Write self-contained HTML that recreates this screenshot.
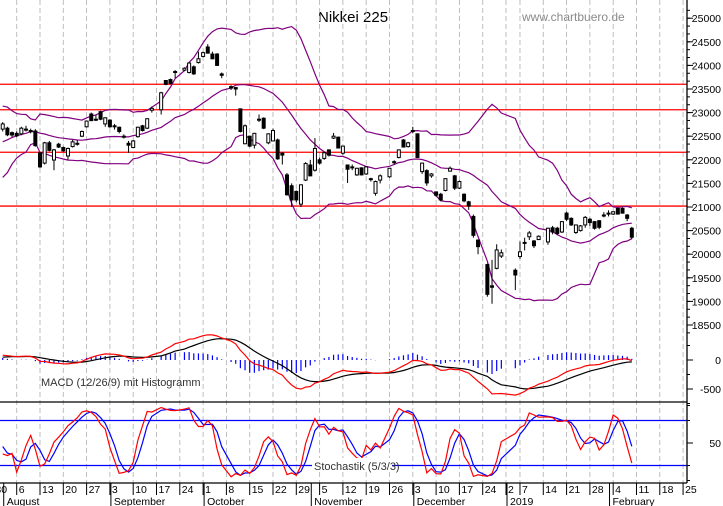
<!DOCTYPE html>
<html><head><meta charset="utf-8"><style>
html,body{margin:0;padding:0;background:#fff;}
svg{display:block;font-family:"Liberation Sans",sans-serif;}
</style></head><body>
<svg id="chart" width="723" height="506" viewBox="0 0 723 506" xmlns="http://www.w3.org/2000/svg">
<rect x="0" y="0" width="723" height="506" fill="#fff"/>
<text x="318" y="22" font-size="15" fill="#000">Nikkei 225</text>
<text x="522" y="21" font-size="12" fill="#8a8a8a">www.chartbuero.de</text>
<defs><clipPath id="plotclip"><rect x="0" y="0" width="687" height="483"/></clipPath>
<clipPath id="stochclip"><rect x="0" y="403" width="687" height="79"/></clipPath></defs>
<g id="grid"></g>
<g id="price" clip-path="url(#plotclip)"></g>
<g id="macd" clip-path="url(#plotclip)"></g>
<g id="stoch" clip-path="url(#stochclip)"></g>
<g id="axes"></g>
</svg>
<script>
const dates=['2018-08-01','2018-08-02','2018-08-03','2018-08-06','2018-08-07','2018-08-08','2018-08-09','2018-08-10','2018-08-13','2018-08-14','2018-08-15','2018-08-16','2018-08-17','2018-08-20','2018-08-21','2018-08-22','2018-08-23','2018-08-24','2018-08-27','2018-08-28','2018-08-29','2018-08-30','2018-08-31','2018-09-03','2018-09-04','2018-09-05','2018-09-06','2018-09-07','2018-09-10','2018-09-11','2018-09-12','2018-09-13','2018-09-14','2018-09-18','2018-09-19','2018-09-20','2018-09-21','2018-09-25','2018-09-26','2018-09-27','2018-09-28','2018-10-01','2018-10-02','2018-10-03','2018-10-04','2018-10-05','2018-10-09','2018-10-10','2018-10-11','2018-10-12','2018-10-15','2018-10-16','2018-10-17','2018-10-18','2018-10-19','2018-10-22','2018-10-23','2018-10-24','2018-10-25','2018-10-26','2018-10-29','2018-10-30','2018-10-31','2018-11-01','2018-11-02','2018-11-05','2018-11-06','2018-11-07','2018-11-08','2018-11-09','2018-11-12','2018-11-13','2018-11-14','2018-11-15','2018-11-16','2018-11-19','2018-11-20','2018-11-21','2018-11-22','2018-11-26','2018-11-27','2018-11-28','2018-11-29','2018-11-30','2018-12-03','2018-12-04','2018-12-05','2018-12-06','2018-12-07','2018-12-10','2018-12-11','2018-12-12','2018-12-13','2018-12-14','2018-12-17','2018-12-18','2018-12-19','2018-12-20','2018-12-21','2018-12-25','2018-12-26','2018-12-27','2018-12-28','2019-01-04','2019-01-07','2019-01-08','2019-01-09','2019-01-10','2019-01-11','2019-01-15','2019-01-16','2019-01-17','2019-01-18','2019-01-21','2019-01-22','2019-01-23','2019-01-24','2019-01-25','2019-01-28','2019-01-29','2019-01-30','2019-01-31','2019-02-01','2019-02-04','2019-02-05','2019-02-06','2019-02-07','2019-02-08'];
const opens=[22650,22670,22575,22560,22550,22640,22620,22610,22150,21930,22360,21995,22330,22260,22080,22280,22340,22500,22700,22970,22850,23020,22760,22840,22720,22690,22500,22350,22260,22490,22720,22670,23050,23060,23680,23700,23850,23900,23850,23970,24060,24190,24390,24240,24240,23820,23550,23530,23080,22340,22500,22310,22860,22880,22360,22400,22420,22140,21680,21450,21330,21060,21570,21890,21780,22000,22030,22210,22460,22480,22140,21890,21850,21680,21830,21700,21600,21290,21570,21640,21950,22050,22420,22280,22600,22550,21750,21770,21660,21320,21270,21350,21760,21660,21400,21270,21110,20800,20300,19780,19330,19700,19960,19660,19950,20250,20370,20280,20310,20260,20560,20550,20470,20870,20760,20460,20500,20620,20740,20690,20710,20820,20860,20850,20970,20970,20830,20550];
const highs=[22800,22700,22600,22600,22700,22720,22660,22650,22150,22380,22400,22230,22360,22280,22260,22420,22420,22620,22830,23000,22950,23040,22900,22860,22760,22700,22540,22400,22420,22700,22740,22880,23130,23440,23690,23720,23900,23960,24070,24000,24290,24290,24450,24290,24260,23850,23580,23540,23080,22750,22510,22570,22960,22900,22560,22660,22450,22160,21720,21500,21350,21480,21950,22000,22460,22050,22170,22220,22570,22490,22300,21900,21900,21830,21840,21860,21620,21560,21690,21830,21990,22220,22440,22380,22700,22560,21940,21800,21720,21330,21300,21610,21860,21680,21560,21290,21130,20840,20310,19800,19880,20210,20100,19700,20270,20350,20490,20300,20400,20560,20600,20580,20700,20900,20780,20630,20620,20810,20770,20700,20720,20890,20930,20900,20980,20990,20850,20580];
const lows=[22600,22500,22480,22480,22520,22600,22560,22280,21830,21900,22180,21780,22250,22170,22000,22260,22300,22480,22680,22820,22820,22840,22700,22680,22640,22560,22450,22150,22250,22470,22600,22650,23000,22960,23580,23600,23730,23880,23830,23800,24040,24170,24250,24130,23990,23730,23480,23360,22580,22330,22270,22240,22800,22650,22330,22390,22000,21900,21240,21000,21100,21000,21550,21650,21750,21900,22000,22070,22440,22240,22110,21510,21780,21660,21670,21680,21540,21240,21500,21620,21900,22030,22260,22260,22560,22040,21700,21450,21620,21220,21120,21330,21750,21360,21380,21100,20940,20350,20000,19100,18950,19680,19920,19240,19900,20080,20300,20130,20300,20200,20420,20400,20450,20700,20600,20430,20480,20560,20600,20520,20530,20780,20800,20830,20840,20860,20700,20320];
const closes=[22760,22530,22525,22510,22670,22650,22600,22300,21850,22360,22200,22210,22270,22190,22240,22380,22350,22600,22820,22830,22860,22860,22890,22700,22700,22600,22490,22310,22400,22690,22620,22870,23090,23420,23600,23620,23870,23940,24050,23820,24140,24270,24260,24140,24000,23790,23520,23500,22600,22720,22290,22560,22840,22670,22550,22620,22020,22100,21260,21150,21150,21470,21920,21660,22240,21930,22150,22100,22500,22250,22290,21800,21840,21820,21680,21850,21590,21540,21660,21820,21960,22210,22270,22360,22620,22050,21930,21510,21700,21250,21150,21600,21820,21400,21540,21130,21020,20400,20160,19150,19300,20090,20030,19560,20050,20240,20450,20180,20380,20550,20470,20440,20690,20740,20620,20620,20600,20780,20670,20550,20570,20830,20870,20900,20850,20870,20760,20360];
const histCloses=[22680,22278,22555,22693,22516,22338,22342,22271,22270,22304,21811,21785,21717,21546,21788,22052,22196,21932,22187,22597,22697,22794,22764,22698,22397,22510,22614,22586,22712,22544,22553];
const resistanceLevels=[23600,23060,22160,21020];
const priceTicks=[18500,19000,19500,20000,20500,21000,21500,22000,22500,23000,23500,24000,24500,25000];
const macdTicks=[0,-500];
const stochTicks=[50];
const stochLevels=[80,20];
const monthNames=['January','February','March','April','May','June','July','August','September','October','November','December'];

const NS='http://www.w3.org/2000/svg';
function mk(tag,attrs,parent){const e=document.createElementNS(NS,tag);for(const k in attrs)e.setAttribute(k,attrs[k]);parent.appendChild(e);return e;}
const gGrid=document.getElementById('grid'),gPrice=document.getElementById('price'),gMacd=document.getElementById('macd'),gStoch=document.getElementById('stoch'),gAxes=document.getElementById('axes');

const slots=[];
for(let d=Date.UTC(2018,6,30);d<=Date.UTC(2019,1,28);d+=864e5){const dt=new Date(d);const dow=dt.getUTCDay();if(dow===0||dow===6)continue;const s=dt.toISOString().slice(0,10);if(s==='2018-12-31'||s==='2019-01-01')continue;slots.push(s);}
const slotIdx={};slots.forEach((s,i)=>slotIdx[s]=i);
const base=slotIdx['2018-08-06'];
const xOf=s=>16.7+(slotIdx[s]-base)*4.66;
const yP=v=>207-(v-21000)*0.0472;
const yM=v=>360-v*0.058;
const yS=v=>443-(v-50)*0.75;
const AX=687, BOT=483;

let prevMonth=null;
slots.forEach((s,i)=>{
  const x=xOf(s);const dt=new Date(s+'T00:00:00Z');
  const prev=i>0?new Date(slots[i-1]+'T00:00:00Z'):null;
  const weekStart=dt.getUTCDay()===1||(prev&&(dt-prev)>3*864e5);
  if(weekStart&&x<AX){
    const gl=mk('line',{x1:x,x2:x,y1:0,y2:BOT,stroke:'#b8b8b8','stroke-width':0.9,'stroke-dasharray':'5,3'},gGrid);
    
    
    const tk=mk('line',{x1:x,x2:x,y1:BOT,y2:495,stroke:'#000','stroke-width':1},gAxes);
    
    
    const t=mk('text',{x:x+2,y:493,'font-size':10.5,fill:'#000'},gAxes);t.textContent=String(dt.getUTCDate());
    
    
  }
  const m=dt.getUTCMonth();
  if(prevMonth!==null&&m!==prevMonth&&x<AX){
    const ms=mk('line',{x1:x+1,x2:x+1,y1:BOT,y2:506,stroke:'#000','stroke-width':1},gAxes);
    
    
    const t=mk('text',{x:x+4,y:505,'font-size':10.5,fill:'#000'},gAxes);
    t.textContent=(m===0)?String(dt.getUTCFullYear()):monthNames[m];
    
    
  }
  prevMonth=m;
});

resistanceLevels.forEach(v=>{
  const l=mk('line',{x1:0,x2:AX,y1:yP(v),y2:yP(v),stroke:'#ff0000','stroke-width':1.3},gPrice);
  
  
});

const allC=histCloses.concat(closes);
const allH=histCloses.concat(highs);
const allL=histCloses.concat(lows);
const H0=histCloses.length;
function ema(arr,n){const k=2/(n+1);const out=[];arr.forEach((v,i)=>out.push(i===0?v:v*k+out[i-1]*(1-k)));return out;}
const e12=ema(allC,12),e26=ema(allC,26);
const macd=allC.map((v,i)=>e12[i]-e26[i]);
const sig=ema(macd,9);
const bbU=[],bbM=[],bbL=[];
allC.forEach((v,i)=>{if(i<19){bbU.push(null);bbM.push(null);bbL.push(null);return;}
  const w=allC.slice(i-19,i+1);const m=w.reduce((a,b)=>a+b,0)/20;const sd=Math.sqrt(w.reduce((a,b)=>a+(b-m)*(b-m),0)/20);
  bbU.push(m+2*sd);bbM.push(m);bbL.push(m-2*sd);});
const fastK=allC.map((c,i)=>{if(i<4)return null;const hh=Math.max(...allH.slice(i-4,i+1)),ll=Math.min(...allL.slice(i-4,i+1));return hh===ll?50:(c-ll)/(hh-ll)*100;});
const sma3=a=>a.map((v,i)=>{if(i<2||a[i]==null||a[i-1]==null||a[i-2]==null)return null;return (a[i]+a[i-1]+a[i-2])/3;});
const slowK=sma3(fastK),slowD=sma3(slowK);

function polyline(vals,yf,parent,color,w,name){
  const pts=[];dates.forEach((d,j)=>{const v=vals[H0+j];if(v!=null)pts.push(xOf(d).toFixed(1)+','+yf(v).toFixed(1));});
  const p=mk('polyline',{points:pts.join(' '),fill:'none',stroke:color,'stroke-width':w},parent);
  
  
}
polyline(bbU,yP,gPrice,'#800080',1.2,'bollinger-upper');
polyline(bbM,yP,gPrice,'#800080',1.2,'bollinger-middle');
polyline(bbL,yP,gPrice,'#800080',1.2,'bollinger-lower');

dates.forEach((d,j)=>{
  const x=xOf(d),o=opens[j],c=closes[j],h=highs[j],l=lows[j];
  const wk=mk('line',{x1:x,x2:x,y1:yP(h),y2:yP(l),stroke:'#000','stroke-width':1},gPrice);
  
  
  const top=yP(Math.max(o,c)),bh=Math.max(1,Math.abs(yP(o)-yP(c)));
  const up=c>=o;
  const b=mk('rect',{x:x-1.5,y:top,width:3,height:bh,fill:up?'#fff':'#000',stroke:'#000','stroke-width':1},gPrice);
  
  
});

dates.forEach((d,j)=>{
  const v=macd[H0+j]-sig[H0+j];const x=xOf(d);
  const bar=mk('line',{x1:x,x2:x,y1:yM(0),y2:yM(v),stroke:'#0000ff','stroke-width':1.2},gMacd);
  
  
});
polyline(sig,yM,gMacd,'#000',1.2,'macd-signal-line');
polyline(macd,yM,gMacd,'#ff0000',1.2,'macd-line');
const mt=mk('text',{x:41,y:386,'font-size':11,fill:'#333'},gMacd);mt.textContent='MACD (12/26/9) mit Histogramm';



const sep=mk('line',{x1:0,x2:AX,y1:402,y2:402,stroke:'#000','stroke-width':1.3},gAxes);


stochLevels.forEach(v=>{
  const l=mk('line',{x1:0,x2:AX,y1:yS(v),y2:yS(v),stroke:'#0000ff','stroke-width':1.3},gGrid);
  
  
});

polyline(slowD,yS,gStoch,'#0000ff',1.2,'stochastic-d-line');
polyline(slowK,yS,gStoch,'#ff0000',1.2,'stochastic-k-line');
const sb=mk('rect',{x:312,y:458,width:80,height:14,fill:'#fff'},gAxes);


const st=mk('text',{x:314,y:470,'font-size':11,fill:'#333'},gAxes);st.textContent='Stochastik (5/3/3)';



const va=mk('line',{x1:AX,x2:AX,y1:0,y2:BOT,stroke:'#000','stroke-width':1.3},gAxes);


const ha=mk('line',{x1:0,x2:AX,y1:BOT,y2:BOT,stroke:'#000','stroke-width':1.3},gAxes);



for(let v=18500-500;v<=25200;v+=500/3){const y=yP(v);if(y<0||y>335)continue;
  const t=mk('line',{x1:AX,x2:AX+3,y1:y,y2:y,stroke:'#000','stroke-width':1},gAxes);
  
  }
function axisLabel(v,y,name){
  const tk=mk('line',{x1:AX,x2:AX+6,y1:y,y2:y,stroke:'#000','stroke-width':1},gAxes);
  
  
  const t=mk('text',{x:721,y:y+4,'font-size':10.5,'text-anchor':'end',fill:'#000'},gAxes);t.textContent=String(v);
  
  
}
priceTicks.forEach(v=>axisLabel(v,yP(v),'price-axis'));
macdTicks.forEach(v=>axisLabel(v,yM(v),'macd-axis'));
for(let v=-750;v<=250;v+=250){const y=yM(v);const t=mk('line',{x1:AX,x2:AX+3,y1:y,y2:y,stroke:'#000','stroke-width':1},gAxes);
  
  }
stochTicks.forEach(v=>axisLabel(v,yS(v),'stochastic-axis'));
[0,20,80,100].forEach(v=>{const y=yS(v);const t=mk('line',{x1:AX,x2:AX+3,y1:y,y2:y,stroke:'#000','stroke-width':1},gAxes);
  
  });
</script>
</body></html>
